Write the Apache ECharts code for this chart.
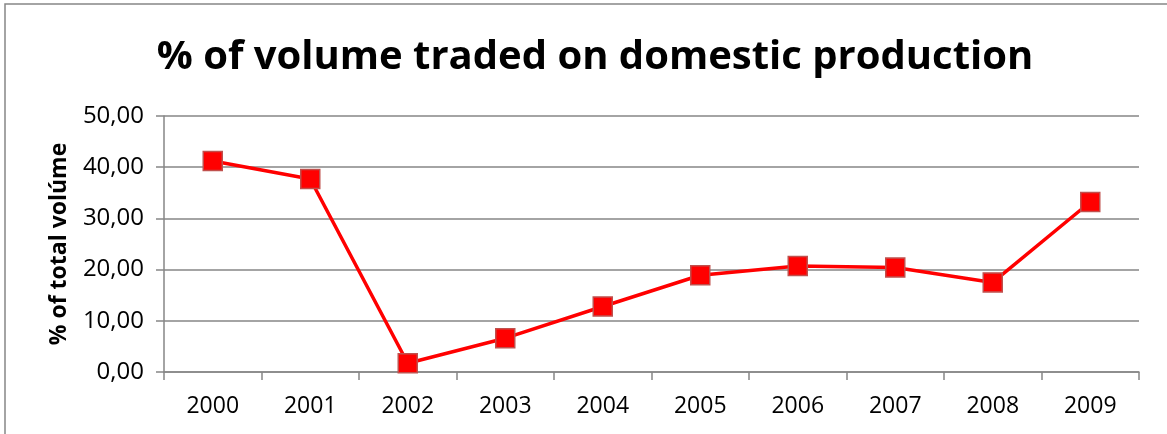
<!DOCTYPE html>
<html>
<head>
<meta charset="utf-8">
<script src="https://cdn.jsdelivr.net/npm/echarts@6/dist/echarts.min.js"></script>
<style>
  html, body { margin: 0; padding: 0; background: #fff; }
  #chart { width: 1167px; height: 434px; }
</style>
</head>
<body>
<div id="chart"></div>
<script>
// Share of traded volume coming from domestic production, by year
const years = ['2000', '2001', '2002', '2003', '2004', '2005', '2006', '2007', '2008', '2009'];
const domesticShare = [41.2, 37.7, 1.7, 6.6, 12.8, 18.9, 20.7, 20.4, 17.5, 33.2];
const yTicks = { min: 0, max: 50, interval: 10 };

const FONT = "'Open Sans', 'Noto Sans', sans-serif";
const GRID_GREY = '#868686';

const chart = echarts.init(document.getElementById('chart'), null, { renderer: 'canvas' });

chart.setOption({
  animation: false,
  backgroundColor: '#ffffff',
  title: {
    text: '% of volume traded on domestic production',
    left: 590,
    textAlign: 'center',
    top: 33,
    textStyle: { fontFamily: FONT, fontWeight: 'bold', fontSize: 40, color: '#000', letterSpacing: -0.3 }
  },
  graphic: [{
    type: 'rect',
    shape: { x: 5, y: 4, width: 1170, height: 440 },
    style: { fill: 'none', stroke: GRID_GREY, lineWidth: 1.5 },
    silent: true
  }],
  grid: { left: 164, right: 28, top: 116, bottom: 62 },
  xAxis: {
    type: 'category',
    data: years,
    boundaryGap: true,
    axisLine: { lineStyle: { color: GRID_GREY, width: 1.5 } },
    axisTick: { show: true, alignWithLabel: false, length: 8, lineStyle: { color: GRID_GREY, width: 1.5 } },
    axisLabel: { fontFamily: FONT, fontSize: 23, color: '#000', margin: 23 }
  },
  yAxis: {
    type: 'value',
    min: yTicks.min,
    max: yTicks.max,
    interval: yTicks.interval,
    name: '% of total volúme',
    nameLocation: 'middle',
    nameRotate: 90,
    nameGap: 93,
    nameTextStyle: { fontFamily: FONT, fontWeight: 'bold', fontSize: 23, color: '#000' },
    axisLine: { show: true, lineStyle: { color: GRID_GREY, width: 1.5 } },
    axisTick: { show: true, length: 8, lineStyle: { color: GRID_GREY, width: 1.5 } },
    splitLine: { lineStyle: { color: GRID_GREY, width: 1.5 } },
    axisLabel: {
      fontFamily: FONT, fontSize: 24, color: '#000', margin: 20,
      formatter: v => v.toFixed(2).replace('.', ',')
    }
  },
  series: [{
    type: 'line',
    data: domesticShare,
    symbol: 'rect',
    symbolSize: 19,
    lineStyle: { color: '#ff0000', width: 3.5 },
    itemStyle: { color: '#ff0000', borderColor: '#c0504d', borderWidth: 1.5 }
  }]
});
</script>
</body>
</html>
